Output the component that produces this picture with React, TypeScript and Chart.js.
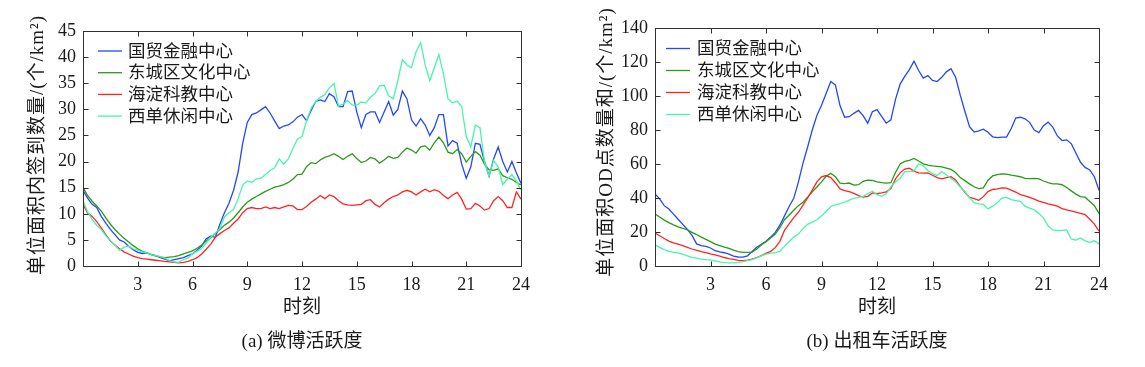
import React, { useEffect, useRef } from 'react';
import { Chart, registerables } from 'chart.js';

Chart.register(...registerables);

const HOURS = [
  0, 0.25, 0.5, 0.75, 1, 1.25, 1.5, 1.75, 2, 2.25, 2.5, 2.75, 3, 3.25, 3.5, 3.75,
  4, 4.25, 4.5, 4.75, 5, 5.25, 5.5, 5.75, 6, 6.25, 6.5, 6.75, 7, 7.25, 7.5, 7.75,
  8, 8.25, 8.5, 8.75, 9, 9.25, 9.5, 9.75, 10, 10.25, 10.5, 10.75, 11, 11.25, 11.5, 11.75,
  12, 12.25, 12.5, 12.75, 13, 13.25, 13.5, 13.75, 14, 14.25, 14.5, 14.75, 15, 15.25, 15.5, 15.75,
  16, 16.25, 16.5, 16.75, 17, 17.25, 17.5, 17.75, 18, 18.25, 18.5, 18.75, 19, 19.25, 19.5, 19.75,
  20, 20.25, 20.5, 20.75, 21, 21.25, 21.5, 21.75, 22, 22.25, 22.5, 22.75, 23, 23.25, 23.5, 23.75, 24,
];

const SERIES_NAMES = ['国贸金融中心', '东城区文化中心', '海淀科教中心', '西单休闲中心'];
const SERIES_COLORS = ['#2448f8', '#2a9a18', '#ff2424', '#48f5a8'];

const X_TICKS = [0, 3, 6, 9, 12, 15, 18, 21, 24];
const WEIBO_Y_TICKS = [0, 5, 10, 15, 20, 25, 30, 35, 40, 45];
const TAXI_Y_TICKS = [0, 20, 40, 60, 80, 100, 120, 140];

// (a) 微博活跃度
const WEIBO_GUOMAO = [
  14.5, 13.0, 11.8, 11.2, 9.5, 8.2, 7.0, 6.0, 5.0, 4.6, 3.8, 3.1, 2.6, 2.4, 2.5, 2.2,
  2.0, 1.6, 1.3, 1.0, 1.2, 1.4, 1.6, 2.0, 2.3, 3.0, 3.8, 5.2, 5.7, 5.5, 8.0, 10.2,
  12.0, 14.5, 18.0, 23.5, 27.5, 29.0, 29.3, 29.9, 30.5, 29.3, 27.8, 26.3, 26.8, 27.0, 27.6, 28.5,
  29.0, 27.8, 29.8, 31.5, 31.8, 31.5, 33.0, 32.4, 30.5, 30.5, 33.4, 33.5, 29.5, 26.5, 29.0, 29.5,
  29.5, 27.5, 29.5, 31.5, 28.9, 30.0, 33.5, 32.0, 28.0, 26.8, 28.2, 27.0, 25.0, 26.5, 29.0, 29.0,
  23.0, 24.0, 23.5, 19.5, 16.8, 19.0, 23.5, 23.3, 20.0, 17.2, 20.5, 22.8, 20.0, 18.0, 20.0, 17.8, 15.8,
];
const WEIBO_DONGCHENG = [
  15.0, 13.5, 12.4, 11.5, 10.5, 9.2, 8.0, 7.0, 6.1, 5.3, 4.6, 3.9, 3.3, 2.8, 2.5, 2.2,
  1.9, 1.7, 1.6, 1.7, 1.8, 2.0, 2.3, 2.6, 2.9, 3.4, 4.0, 4.8, 5.4, 6.2, 7.0, 7.8,
  8.4, 9.2, 10.2, 11.3, 12.2, 12.8, 13.3, 13.8, 14.3, 14.7, 15.1, 15.3, 15.6, 16.0, 16.6, 17.5,
  17.6, 19.0, 19.8, 19.6, 20.3, 20.8, 21.1, 21.5, 21.0, 20.4, 21.0, 21.5, 20.6, 19.8, 20.1, 20.8,
  20.5, 19.7, 20.3, 21.0, 20.6, 20.8, 21.8, 22.6, 22.2, 21.6, 22.8, 23.0, 22.2, 23.6, 24.7, 23.6,
  21.8, 21.5, 22.3, 21.5, 19.9, 21.0, 21.9, 21.2, 19.5, 18.4, 18.3, 18.6, 17.3, 16.9, 16.6, 16.0, 15.5,
];
const WEIBO_HAIDIAN = [
  11.8, 10.2, 9.5, 8.5, 7.3, 6.0, 4.8, 4.0, 3.3, 2.7, 2.3, 1.9, 1.6, 1.4, 1.3, 1.2,
  1.1, 1.0, 0.9, 0.8, 0.7, 0.6, 0.7, 0.9, 1.2, 1.6, 2.3, 3.2, 4.2, 5.5, 6.2, 6.8,
  7.3, 8.2, 9.0, 10.2, 11.0, 11.2, 11.0, 11.0, 11.3, 11.0, 11.2, 11.0, 11.3, 11.6, 11.5, 10.8,
  10.8, 11.4, 12.2, 12.8, 13.5, 12.9, 13.6, 13.3, 12.5, 11.9, 11.7, 11.6, 11.7, 11.8, 12.5, 12.7,
  11.8, 11.3, 12.1, 12.8, 13.3, 13.6, 14.2, 14.5, 14.2, 13.6, 14.2, 14.7, 14.2, 14.6, 14.3, 13.5,
  12.9, 13.6, 14.1, 12.8, 10.9, 11.0, 12.0, 11.5, 10.7, 11.0, 12.5, 13.3, 12.5, 11.2, 11.2, 14.2, 12.8,
];
const WEIBO_XIDAN = [
  12.5, 10.4, 8.9, 7.8, 7.0, 5.8, 4.9, 4.0, 3.0, 3.6, 3.8, 3.3, 3.0, 2.7, 2.5, 2.2,
  2.0, 1.8, 1.5, 1.0, 0.8, 0.7, 1.2, 1.5, 2.4, 2.8, 3.4, 4.4, 5.5, 6.3, 7.2, 9.4,
  10.2, 10.8, 12.9, 15.5, 16.3, 16.0, 16.7, 16.8, 17.5, 18.3, 18.8, 20.5, 19.5, 20.5, 22.5, 24.3,
  24.8, 27.8, 30.2, 31.5, 32.3, 32.8, 34.1, 35.0, 30.6, 31.0, 31.7, 30.8, 30.8, 31.4, 31.2, 32.3,
  33.0, 34.5, 34.6, 32.6, 32.0, 35.5, 39.5, 38.5, 38.0, 41.0, 42.8, 38.5, 35.5, 38.0, 40.5, 36.8,
  32.0, 31.2, 31.6, 30.5, 24.8, 22.8, 27.0, 26.5, 20.0, 17.2, 20.2, 19.0, 15.6, 16.6, 17.5, 16.3, 14.5,
];

// (b) 出租车活跃度
const TAXI_GUOMAO = [
  42.4, 39.5, 35.5, 33.5, 30.5, 27.5, 24.5, 21.5, 18.0, 13.0, 12.0, 11.5, 10.6, 9.0, 8.3, 7.8,
  7.0, 5.8, 5.3, 5.2, 6.0, 8.5, 11.0, 12.8, 14.5, 17.0, 19.8, 24.0, 29.5, 35.0, 39.8, 49.3,
  60.5, 70.0, 80.0, 88.5, 94.5, 101.5, 108.5, 106.5, 94.4, 87.5, 87.8, 89.8, 91.5, 88.5, 84.0, 90.8,
  92.0, 88.0, 84.0, 86.0, 98.0, 107.0, 111.5, 115.5, 120.5, 115.0, 110.5, 112.0, 109.2, 108.5, 111.0, 114.2,
  116.0, 111.0, 100.5, 91.0, 82.0, 78.8, 79.5, 80.5, 78.7, 76.0, 75.5, 75.8, 75.8, 80.7, 87.0, 87.5,
  86.6, 84.5, 80.0, 78.5, 82.5, 84.6, 81.7, 76.5, 73.8, 74.2, 72.0, 66.5, 61.0, 58.0, 56.5, 52.5, 44.5,
];
const TAXI_DONGCHENG = [
  30.6, 28.8, 27.0, 25.5, 24.2, 23.0, 22.2, 21.2, 19.8, 18.5, 17.0, 15.7, 14.3, 12.9, 12.0, 11.1,
  10.3, 9.3, 8.5, 8.0, 8.0, 8.2, 10.0, 12.4, 14.3, 16.4, 18.8, 22.5, 27.2, 30.0, 32.8, 35.5,
  37.5, 40.5, 43.6, 46.5, 49.5, 52.8, 54.5, 52.5, 48.8, 48.5, 48.8, 47.6, 47.8, 49.8, 50.5, 50.3,
  49.5, 49.0, 48.8, 49.0, 55.0, 60.0, 61.5, 62.2, 63.3, 61.8, 60.1, 59.4, 58.9, 58.6, 58.3, 57.6,
  56.8, 55.0, 52.0, 50.2, 48.3, 46.6, 45.5, 46.0, 50.5, 53.0, 53.8, 54.2, 54.0, 53.4, 53.0, 52.5,
  51.5, 51.4, 51.6, 51.2, 50.0, 49.0, 48.3, 48.3, 47.8, 46.2, 44.2, 42.3, 40.8, 40.5, 38.0, 35.5, 31.0,
];
const TAXI_HAIDIAN = [
  19.4, 17.8, 16.2, 14.6, 13.6, 12.8, 12.0, 11.0, 10.0, 9.2, 8.4, 7.8, 7.1, 6.5, 5.8, 5.0,
  4.4, 3.9, 3.3, 3.1, 3.5, 4.1, 5.0, 6.1, 7.4, 8.6, 10.8, 14.5, 21.0, 24.8, 28.5, 31.6,
  35.8, 40.0, 44.6, 49.5, 52.5, 53.2, 52.0, 49.0, 45.3, 44.4, 43.8, 42.7, 41.4, 40.5, 41.0, 43.0,
  42.5, 43.0, 43.6, 45.5, 51.2, 54.8, 57.0, 57.5, 55.8, 54.8, 54.6, 54.8, 53.4, 52.0, 51.3, 52.0,
  52.5, 50.6, 46.8, 43.3, 40.4, 39.6, 38.6, 40.8, 43.8, 45.0, 45.4, 46.0, 45.8, 44.6, 43.5, 42.0,
  41.2, 40.4, 39.3, 38.2, 37.4, 36.6, 36.0, 35.2, 33.8, 33.0, 32.4, 31.7, 31.0, 30.2, 27.5, 24.6, 20.5,
];
const TAXI_XIDAN = [
  12.4, 11.0, 9.6, 8.6, 8.0, 7.7, 7.0, 6.0, 5.1, 4.6, 4.1, 3.8, 3.6, 3.0, 2.4, 2.0,
  1.8, 1.8, 2.1, 2.6, 3.2, 3.7, 4.8, 6.0, 7.0, 7.6, 7.9, 8.6, 11.6, 14.3, 17.0, 18.8,
  22.0, 24.5, 25.8, 27.2, 29.5, 32.0, 35.0, 36.0, 36.7, 37.5, 38.8, 39.8, 40.4, 41.0, 42.5, 44.0,
  42.0, 41.0, 42.5, 46.5, 49.5, 51.5, 55.5, 55.5, 56.0, 60.0, 59.0, 56.1, 54.3, 53.3, 55.6, 53.5,
  51.5, 49.5, 46.5, 43.8, 40.2, 37.3, 36.5, 36.2, 33.6, 35.2, 37.2, 40.0, 40.4, 39.0, 38.5, 38.0,
  35.2, 34.0, 33.0, 30.9, 28.3, 23.5, 21.2, 20.8, 21.0, 21.2, 15.9, 15.2, 16.5, 14.8, 13.9, 14.8, 13.0,
];

const SERIF = '"Liberation Serif", "Noto Sans CJK SC", serif';
const CJK = '"Liberation Serif", "Noto Sans CJK SC", sans-serif';
const INK = '#1a1a1a';

type PanelSpec = {
  series: number[][];
  yTicks: number[];
  yTitle: string;
  caption: string;
  pad: { top: number; right: number };
  axisWidth: number;
  yTitleX: number;
  yTitleY: number;
  legend: { lineX0: number; lineX1: number; textX: number; y0: number; dy: number };
};

const decorPlugin = (spec: PanelSpec) => ({
  id: 'decor',
  afterDraw(chart: any) {
    const ctx = chart.ctx as CanvasRenderingContext2D;
    const { left, right, top, bottom } = chart.chartArea;
    const xs = chart.scales.x;
    const ys = chart.scales.y;
    const L = Math.round(left) + 0.5;
    const R = Math.round(right) + 0.5;
    const T = Math.round(top) + 0.5;
    const B = Math.round(bottom) + 0.5;
    ctx.save();
    ctx.strokeStyle = '#303030';
    ctx.lineWidth = 1;
    ctx.beginPath();
    ctx.rect(L, T, R - L, B - T);
    const tl = 5;
    X_TICKS.forEach((v) => {
      const px = Math.round(xs.getPixelForValue(v)) + 0.5;
      ctx.moveTo(px, B);
      ctx.lineTo(px, B - tl);
      ctx.moveTo(px, T);
      ctx.lineTo(px, T + tl);
    });
    spec.yTicks.forEach((v) => {
      const py = Math.round(ys.getPixelForValue(v)) + 0.5;
      ctx.moveTo(L, py);
      ctx.lineTo(L + tl, py);
      ctx.moveTo(R, py);
      ctx.lineTo(R - tl, py);
    });
    ctx.stroke();

    // legend inside the plot
    const lg = spec.legend;
    ctx.font = `17.5px ${CJK}`;
    ctx.textBaseline = 'middle';
    ctx.textAlign = 'left';
    SERIES_NAMES.forEach((name, i) => {
      const y = top + lg.y0 + i * lg.dy;
      ctx.strokeStyle = SERIES_COLORS[i];
      ctx.lineWidth = 1.3;
      ctx.beginPath();
      ctx.moveTo(left + lg.lineX0, y);
      ctx.lineTo(left + lg.lineX1, y);
      ctx.stroke();
      ctx.fillStyle = INK;
      ctx.fillText(name, left + lg.textX, y + 1);
    });

    // x title and caption
    const cx = (left + right) / 2;
    ctx.textAlign = 'center';
    ctx.font = `19px ${CJK}`;
    ctx.fillText('时刻', cx, bottom + 42);
    ctx.fillText(spec.caption, cx, bottom + 76);

    // y title
    ctx.save();
    ctx.translate(spec.yTitleX, spec.yTitleY);
    ctx.rotate(-Math.PI / 2);
    ctx.font = `19px ${CJK}`;
    (ctx as any).letterSpacing = '1px';
    ctx.fillText(spec.yTitle, 0, 0);
    ctx.restore();
    ctx.restore();
  },
});

function Panel({ spec, style }: { spec: PanelSpec; style: React.CSSProperties }) {
  const ref = useRef<HTMLCanvasElement | null>(null);
  useEffect(() => {
    if (!ref.current) return;
    const yMax = spec.yTicks[spec.yTicks.length - 1];
    const yStep = spec.yTicks[1] - spec.yTicks[0];
    const chart = new Chart(ref.current, {
      type: 'line',
      data: {
        datasets: spec.series.map((vals, i) => ({
          label: SERIES_NAMES[i],
          data: HOURS.map((h, k) => ({ x: h, y: vals[k] })),
          borderColor: SERIES_COLORS[i],
          borderWidth: 1.3,
          pointRadius: 0,
          tension: 0,
          fill: false,
          order: 3 - i,
        })),
      },
      options: {
        animation: false,
        responsive: false,
        events: [],
        layout: { padding: { top: spec.pad.top, right: spec.pad.right, left: 0, bottom: 0 } },
        plugins: { legend: { display: false }, tooltip: { enabled: false }, title: { display: false } },
        scales: {
          x: {
            type: 'linear',
            min: 0,
            max: 24,
            afterFit: (s: any) => {
              s.height = 101;
            },
            afterBuildTicks: (s: any) => {
              s.ticks = X_TICKS.map((v) => ({ value: v }));
            },
            grid: { display: false, drawTicks: false },
            border: { display: false },
            ticks: {
              autoSkip: false,
              maxRotation: 0,
              padding: 8,
              color: INK,
              font: { family: SERIF, size: 18 },
              callback: (v: any) => (v === 0 ? '' : String(v)),
            },
          },
          y: {
            type: 'linear',
            min: 0,
            max: yMax,
            afterFit: (s: any) => {
              s.width = spec.axisWidth;
            },
            afterBuildTicks: (s: any) => {
              s.ticks = spec.yTicks.map((v) => ({ value: v }));
            },
            grid: { display: false, drawTicks: false },
            border: { display: false },
            ticks: {
              stepSize: yStep,
              padding: 7,
              color: INK,
              font: { family: SERIF, size: 18 },
            },
          },
        },
      },
      plugins: [decorPlugin(spec)],
    } as any);
    return () => chart.destroy();
  }, [spec]);
  return <canvas ref={ref} width={style.width as number} height={367} style={style} />;
}

const WEIBO_SPEC: PanelSpec = {
  series: [WEIBO_GUOMAO, WEIBO_DONGCHENG, WEIBO_HAIDIAN, WEIBO_XIDAN],
  yTicks: WEIBO_Y_TICKS,
  yTitle: '单位面积内签到数量/(个/km²)',
  caption: '(a) 微博活跃度',
  pad: { top: 31, right: 51 },
  axisWidth: 83,
  yTitleX: 38,
  yTitleY: 145,
  legend: { lineX0: 15, lineX1: 39, textX: 45, y0: 20, dy: 21.7 },
};

const TAXI_SPEC: PanelSpec = {
  series: [TAXI_GUOMAO, TAXI_DONGCHENG, TAXI_HAIDIAN, TAXI_XIDAN],
  yTicks: TAXI_Y_TICKS,
  yTitle: '单位面积OD点数量和/(个/km²)',
  caption: '(b) 出租车活跃度',
  pad: { top: 28, right: 46 },
  axisWidth: 83,
  yTitleX: 35,
  yTitleY: 142,
  legend: { lineX0: 11, lineX1: 35, textX: 42, y0: 20.5, dy: 22 },
};

export default function App() {
  return (
    <div style={{ position: 'fixed', left: 0, top: 0, width: 1145, height: 367, background: '#fff' }}>
      <Panel spec={WEIBO_SPEC} style={{ position: 'absolute', left: 0, top: 0, width: 572, height: 367 }} />
      <Panel spec={TAXI_SPEC} style={{ position: 'absolute', left: 572, top: 0, width: 573, height: 367 }} />
    </div>
  );
}
